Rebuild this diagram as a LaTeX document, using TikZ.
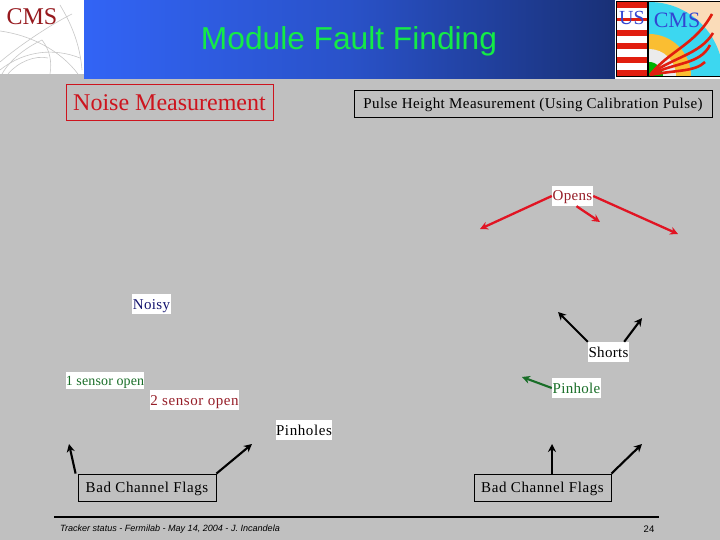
\documentclass[tikz,border=0pt]{standalone}
\usepackage{fontspec}
\usetikzlibrary{arrows.meta}
\setmainfont{Liberation Serif}
\newfontfamily\helv{Liberation Sans}
\newfontfamily\spaceda[LetterSpace=1]{Liberation Serif}
\newfontfamily\spacedb[LetterSpace=2]{Liberation Serif}
\newfontfamily\spacedc[LetterSpace=3]{Liberation Serif}
\newfontfamily\spacedd[LetterSpace=4]{Liberation Serif}
\definecolor{slidegray}{RGB}{192,192,192}
\definecolor{barl}{RGB}{50,100,245}
\definecolor{barr}{RGB}{25,48,118}
\definecolor{titlegreen}{RGB}{20,235,70}
\definecolor{noisered}{RGB}{205,20,30}
\definecolor{openred}{RGB}{225,20,35}
\definecolor{darkred}{RGB}{150,30,40}
\definecolor{navytxt}{RGB}{20,20,110}
\definecolor{grn}{RGB}{25,110,40}
\definecolor{logored}{RGB}{150,25,30}
\definecolor{usred}{RGB}{225,30,15}
\definecolor{peach}{RGB}{250,220,185}
\definecolor{cyanb}{RGB}{60,215,240}
\definecolor{orng}{RGB}{250,190,50}
\definecolor{logoblue}{RGB}{50,70,210}
\begin{document}
\begin{tikzpicture}[x=1pt,y=-1pt,
  tag/.style={fill=white,inner sep=0pt,text height=10pt,text depth=0pt,font=\spacedb\fontsize{15}{15}\selectfont,minimum height=20pt},
  framed/.style={draw=black,line width=.8pt,inner sep=0pt,text height=10pt,text depth=0pt,font=\spacedd\fontsize{15}{15}\selectfont},
  redarrow/.style={openred,line width=2.3pt,-{Stealth[length=8pt,width=8pt]}},
  blackarrow/.style={black,line width=2.1pt,-{Stealth[length=8pt,width=8pt]}},
  greenarrow/.style={grn,line width=2.1pt,-{Stealth[length=8pt,width=8pt]}},
  arc/.style={black!22,line width=.6pt}]
\useasboundingbox (0,0) rectangle (720,540);
\fill[slidegray] (0,0) rectangle (720,540);
% title bar
\shade[left color=barl,right color=barr,middle color=barl!65!barr] (84,0) rectangle (616,79);
% CMS logo
\fill[white] (0,0) rectangle (84,74);
\draw[arc] (0,31) .. controls (30,35) and (60,50) .. (78,74);
\draw[arc] (0,62) .. controls (20,45) and (50,25) .. (72,14);
\draw[arc] (0,70) .. controls (25,50) and (55,48) .. (80,58);
\draw[arc] (2,74) .. controls (10,60) and (25,48) .. (42,40);
\draw[arc] (8,74) .. controls (18,62) and (35,55) .. (48,58);
\draw[arc] (42,40) .. controls (50,50) and (52,62) .. (50,74);
\draw[arc] (60,5) .. controls (72,25) and (80,45) .. (82,70);
\node[inner sep=0pt,text=logored,font=\fontsize{24}{24}\selectfont] (cmslogo) at (32,17) {CMS};
% US CMS logo
\fill[white] (615,0) rectangle (720,79);
\fill[black] (616,1) rectangle (720,77);
\fill[white] (617,2) rectangle (647,76);
\foreach \a/\b in {2/8,18/21,30/36,43/49,57/63,70/76}{\fill[usred] (617,\a) rectangle (647,\b);}
\fill[peach] (649,2) rectangle (720,76);
\begin{scope}
\clip (649,2) rectangle (720,76);
\fill[cyanb] (649,76) circle (74);
\fill[orng] (649,76) circle (42);
\fill[black!8] (649,76) circle (27);
\fill[green!70!black] (649,76) circle (14);
\draw[usred,line width=2.6pt] (650,75) .. controls (670,50) and (695,45) .. (712,14);
\draw[usred,line width=2.6pt] (650,75) .. controls (670,58) and (700,55) .. (713,33);
\draw[usred,line width=2.6pt] (650,75) .. controls (675,62) and (700,65) .. (710,45);
\draw[usred,line width=2.6pt] (650,75) .. controls (675,70) and (695,72) .. (705,62);
\end{scope}
\node[inner sep=0pt,text=logoblue,font=\fontsize{20}{20}\selectfont] (uslogo) at (632,18) {US};
\node[inner sep=0pt,text=logoblue,font=\fontsize{22}{22}\selectfont] (cmslogob) at (677,20) {CMS};
\fill[black] (647,1) rectangle (649,77);
% title
\node[inner sep=0pt,text=titlegreen,font=\helv\fontsize{31.7}{32}\selectfont] (title) at (349,41) {Module Fault Finding};
% headers
\node[draw=noisered,line width=.8pt,text=noisered,inner sep=0pt,minimum width=207pt,minimum height=36pt,font=\fontsize{24}{24}\selectfont] (noise) at (169.5,102.5) {Noise Measurement};
\node[framed,minimum width=358pt,minimum height=27pt,font=\spacedc\fontsize{15}{15}\selectfont] (pulse) at (533,104) {Pulse Height Measurement (Using Calibration Pulse)\hspace{4pt}};
% tags
\node[tag,text=darkred,minimum width=41pt] (opens) at (572.5,196) {Opens};
\node[tag,text=navytxt,minimum width=39pt] (noisy) at (151.5,304) {Noisy};
\node[tag,text=black,minimum width=41pt] (shorts) at (608.5,352) {Shorts};
\node[tag,text=grn,minimum width=49pt] (pinhole) at (576.5,388) {Pinhole};
\node[tag,text=grn,minimum width=78pt,minimum height=17pt,font=\spaceda\fontsize{14}{14}\selectfont] (one) at (105,380.5) {1 sensor open};
\node[tag,text=darkred,minimum width=89pt,font=\spacedd\fontsize{15}{15}\selectfont] (two) at (194.5,400) {2 sensor open};
\node[tag,text=black,minimum width=56pt,font=\spacedd\fontsize{15}{15}\selectfont] (pinholes) at (304,430) {Pinholes};
\node[framed,minimum width=138pt,minimum height=27pt] (bad) at (147,487.5) {Bad Channel Flags\hspace{3pt}};
\node[framed,minimum width=137pt,minimum height=27pt] (badb) at (542.5,487.5) {Bad Channel Flags};
% free ends
\coordinate (o1) at (480,229);
\coordinate (o2) at (600,222);
\coordinate (o3) at (678,234);
\coordinate (s1) at (558,312);
\coordinate (s2) at (642,318);
\coordinate (p1) at (522,377);
\coordinate (b1) at (69,444);
\coordinate (b2) at (252,444);
\coordinate (c1) at (552,444);
\coordinate (c2) at (642,444);
% connectors
\draw[redarrow] (opens.west) -- (o1);
\draw[redarrow] ([xshift=4pt]opens.south) -- (o2);
\draw[redarrow] (opens.east) -- (o3);
\draw[blackarrow] (shorts.north west) -- (s1);
\draw[blackarrow] ([xshift=-5pt]shorts.north east) -- (s2);
\draw[greenarrow] (pinhole.west) -- (p1);
\draw[blackarrow] ([xshift=-2pt]bad.north west) -- (b1);
\draw[blackarrow] (bad.north east) -- (b2);
\draw[blackarrow] ([xshift=9.5pt]badb.north) -- (c1);
\draw[blackarrow] (badb.north east) -- (c2);
% footer
\draw[black,line width=2pt] (54,516.5) -- (659,516.5);
\node[anchor=west,inner sep=0pt,font=\helv\itshape\fontsize{9.05}{9}\selectfont] (foot) at (60,529) {Tracker status - Fermilab - May 14, 2004 -  J. Incandela};
\node[inner sep=0pt,font=\helv\fontsize{9.5}{10}\selectfont] (page) at (649,529.5) {24};
\end{tikzpicture}
\end{document}
